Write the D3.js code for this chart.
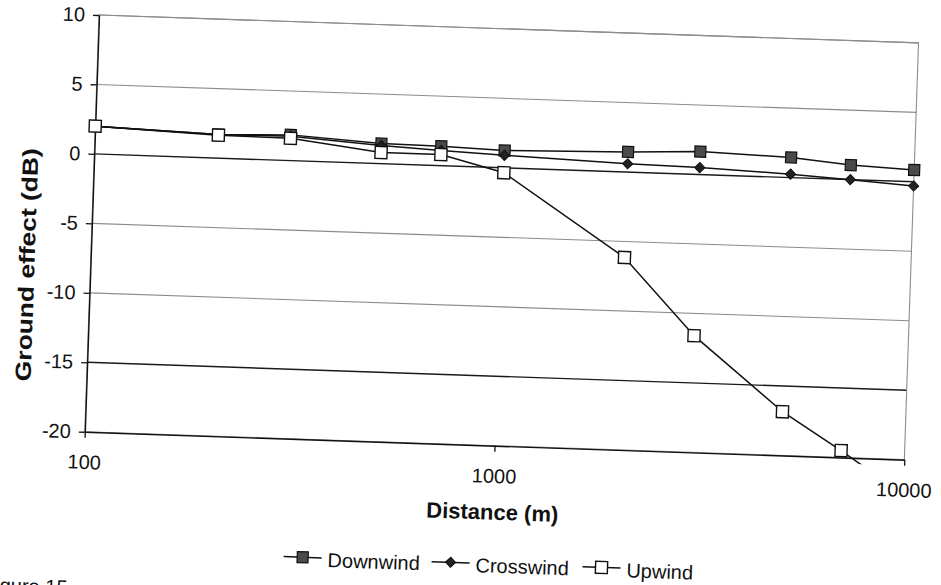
<!DOCTYPE html>
<html>
<head>
<meta charset="utf-8">
<script src="https://cdn.jsdelivr.net/npm/d3@7"></script>
<style>
  body { margin: 0; background: #fff; }
  svg { display: block; font-family: Arial, "Liberation Sans", sans-serif; }
</style>
</head>
<body>
<svg id="chart" width="941" height="585"></svg>
<script>
// data
var distances = [100, 200, 300, 500, 700, 1000, 2000, 3000, 5000, 7000, 10000];
var downwind = [2.0, 1.7, 1.85, 1.45, 1.4, 1.25, 1.45, 1.65, 1.45, 1.05, 0.85];
var crosswind = [2.0, 1.7, 1.75, 1.3, 1.1, 0.9, 0.6, 0.5, 0.25, 0.0, -0.3];
var upwind = [2.0, 1.65, 1.6, 0.8, 0.8, -0.35, -6.15, -11.6, -16.85, -19.5, -22.5];
var yTicks = [10, 5, 0, -5, -10, -15, -20];
var xTicks = [100, 1000, 10000];
var seriesNames = ["Downwind", "Crosswind", "Upwind"];

// the scanned page is tilted a little, so the whole chart is rotated
var origin = [99, 15],
    tilt = 1.95,
    width = 820,
    height = 417;

var svg = d3.select("#chart");
var g = svg.append("g")
    .attr("transform", "translate(" + origin[0] + "," + origin[1] + ") rotate(" + tilt + ")");

var x = d3.scaleLog().domain([100, 10000]).range([0, width]);
var y = d3.scaleLinear().domain([-20, 10]).range([height, 0]);

// gridlines (0 and -15 came out darker in the scan)
g.append("g").selectAll("line")
    .data(yTicks.filter(function (d) { return d !== -20; }))
    .enter().append("line")
    .attr("x1", 0).attr("x2", width)
    .attr("y1", y).attr("y2", y)
    .attr("stroke", function (d) { return (d === 0 || d === -15) ? "#1a1a1a" : "#8c8c8c"; })
    .attr("stroke-width", function (d) { return (d === 0 || d === -15) ? 1.4 : 1.1; });

// plot area border
g.append("rect")
    .attr("width", width).attr("height", height)
    .attr("fill", "none").attr("stroke", "#8c8c8c").attr("stroke-width", 1.1);

// axes, plain hyphen for negatives like the original
var plainNum = function (d) { return String(d); };
var yAxis = g.append("g")
    .call(d3.axisLeft(y).tickValues(yTicks).tickSize(6).tickSizeOuter(0).tickPadding(8)
        .tickFormat(plainNum));
var xAxis = g.append("g")
    .attr("transform", "translate(0," + height + ")")
    .call(d3.axisBottom(x).tickValues(xTicks).tickSize(6).tickSizeOuter(0).tickPadding(17)
        .tickFormat(plainNum));

[yAxis, xAxis].forEach(function (ax) {
    ax.attr("font-family", null).attr("font-size", null);
    ax.select(".domain").attr("stroke", "#111").attr("stroke-width", 1.4);
    ax.selectAll(".tick line").attr("stroke", "#111").attr("stroke-width", 1.3);
    ax.selectAll(".tick text").attr("fill", "#111").style("font-size", "20px");
});

// axis titles
g.append("text")
    .attr("x", x(1000)).attr("y", 491)
    .attr("text-anchor", "middle")
    .style("font-size", "22px").style("font-weight", "bold").attr("fill", "#111")
    .text("Distance (m)");

// the scan stretched this one along its length
g.append("text")
    .attr("transform", "translate(-56,252) rotate(-90) scale(1.2,1)")
    .attr("text-anchor", "middle")
    .style("font-size", "22px").style("font-weight", "bold").attr("fill", "#111")
    .text("Ground effect (dB)");

// series
var series = [downwind, crosswind, upwind].map(function (vals, i) {
    return {
        name: seriesNames[i],
        points: distances.map(function (d, j) { return {d: d, v: vals[j]}; })
    };
});

g.append("clipPath").attr("id", "plot-clip")
    .append("rect").attr("x", -8).attr("y", -8).attr("width", width + 16).attr("height", height + 14);

var line = d3.line()
    .x(function (p) { return x(p.d); })
    .y(function (p) { return y(p.v); });

function drawMarker(sel, name) {
    if (name === "Downwind") {
        sel.append("rect").attr("x", -5.5).attr("y", -5.5).attr("width", 11).attr("height", 11)
            .attr("fill", "#4a4a4a").attr("stroke", "#111").attr("stroke-width", 1.2);
    } else if (name === "Crosswind") {
        sel.append("path").attr("d", d3.symbol(d3.symbolSquare, 52)())
            .attr("transform", "rotate(45)")
            .attr("fill", "#222").attr("stroke", "#111").attr("stroke-width", 1);
    } else {
        sel.append("rect").attr("x", -6).attr("y", -6).attr("width", 12).attr("height", 12)
            .attr("fill", "#fff").attr("stroke", "#111").attr("stroke-width", 1.4);
    }
}

var plot = g.append("g").attr("clip-path", "url(#plot-clip)");

series.forEach(function (s) {
    var sg = plot.append("g");
    sg.append("path")
        .datum(s.points)
        .attr("fill", "none").attr("stroke", "#111").attr("stroke-width", 1.5)
        .attr("d", line);
    sg.selectAll(".pt")
        .data(s.points.filter(function (p) { return p.v >= -20; }))
        .enter().append("g")
        .attr("class", "pt")
        .attr("transform", function (p) { return "translate(" + x(p.d) + "," + y(p.v) + ")"; })
        .each(function () { drawMarker(d3.select(this), s.name); });
});

// legend
var legendX = [222, 370, 521];
var legend = g.append("g").attr("transform", "translate(0,535)");
seriesNames.forEach(function (name, i) {
    var item = legend.append("g").attr("transform", "translate(" + legendX[i] + ",0)");
    item.append("line").attr("x1", -19).attr("x2", 19)
        .attr("stroke", "#111").attr("stroke-width", 1.5);
    drawMarker(item.append("g"), name);
    item.append("text")
        .attr("x", 25).attr("y", 2).attr("dy", "0.35em")
        .style("font-size", "20px").attr("fill", "#111")
        .text(name);
});

// caption cut off by the bottom edge of the scan, as in the original
g.append("text")
    .attr("x", -12).attr("y", 580)
    .attr("text-anchor", "end")
    .style("font-size", "20px").attr("fill", "#111")
    .text("Figure 15");
</script>
</body>
</html>
